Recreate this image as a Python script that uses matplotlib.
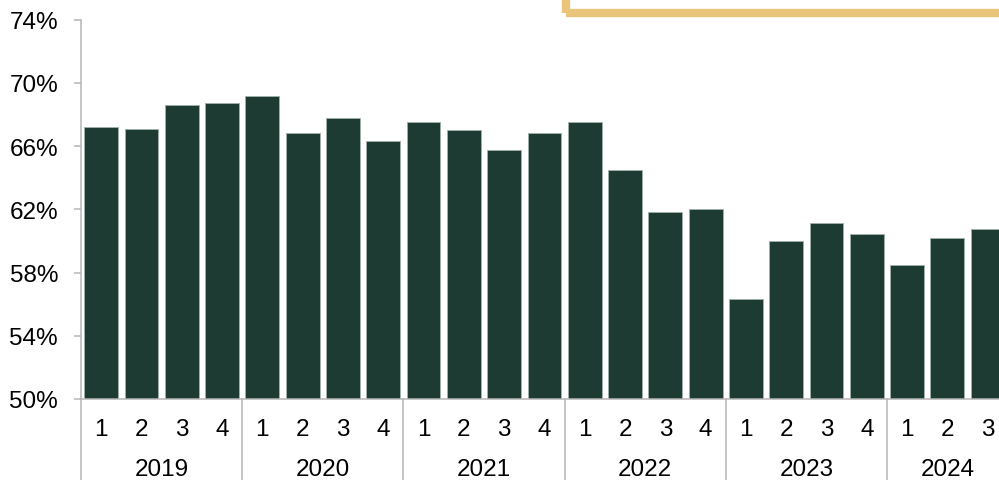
import matplotlib
matplotlib.use('Agg')
import matplotlib.pyplot as plt
import matplotlib.transforms as mtransforms
from matplotlib.patches import Rectangle

# Dados (percentual por trimestre)
anos = ['2019', '2020', '2021', '2022', '2023', '2024']
trimestres = ['1', '2', '3', '4'] * 5 + ['1', '2', '3']
valores = [67.2, 67.1, 68.6, 68.75,
           69.15, 66.85, 67.8, 66.3,
           67.55, 67.0, 65.75, 66.8,
           67.5, 64.5, 61.85, 62.0,
           56.35, 60.0, 61.15, 60.45,
           58.5, 60.2, 60.75]
ano_idx = [0] * 4 + [1] * 4 + [2] * 4 + [3] * 4 + [4] * 4 + [5] * 3
y_ticks = [50, 54, 58, 62, 66, 70, 74]

plt.rcParams['font.family'] = ['Liberation Sans', 'DejaVu Sans']

cor_barra = '#1e3b33'
cor_eixo = '#b5b5b5'

fig = plt.figure(figsize=(9.99, 4.81), dpi=100)
ax = fig.add_axes([81 / 999, 81 / 481, 1 - 81 / 999, (400 - 20.7) / 481])

x = list(range(len(valores)))
ax.bar(x, valores, width=0.84, color=cor_barra, edgecolor='#9fb0a9', linewidth=0.7)

ax.set_ylim(50, 74)
ax.set_xlim(-0.5, 22.28)
ax.set_yticks(y_ticks)
ax.set_yticklabels([f'{v}%' for v in y_ticks], fontsize=17.5)
ax.tick_params(axis='y', length=5, width=1.1, color=cor_eixo, pad=11.5)
ax.set_xticks([])

for lado in ['top', 'right']:
    ax.spines[lado].set_visible(False)
for lado in ['left', 'bottom']:
    ax.spines[lado].set_color(cor_eixo)
    ax.spines[lado].set_linewidth(1.1)

# Rótulos de trimestre e ano abaixo do eixo
trans = mtransforms.blended_transform_factory(ax.transData, ax.transAxes)
for i, q in enumerate(trimestres):
    ax.text(i, -0.08, q, transform=trans, ha='center', va='center', fontsize=17.5)

for k, ano in enumerate(anos):
    idx = [i for i in x if ano_idx[i] == k]
    centro = sum(idx) / len(idx)
    ax.text(centro, -0.185, ano, transform=trans, ha='center', va='center', fontsize=17.5)
    # separadores verticais entre anos
    ax.plot([idx[0] - 0.5, idx[0] - 0.5], [0, -0.3], transform=trans,
            color=cor_eixo, linewidth=1.1, clip_on=False)

# Caixa dourada parcialmente visível no topo
fig.patches.append(Rectangle((566 / 999, (481 - 13.7) / 481), 0.5, 0.2,
                             transform=fig.transFigure, fill=False,
                             edgecolor='#e8c57a', linewidth=6))

fig.savefig('out.png', dpi=100)
